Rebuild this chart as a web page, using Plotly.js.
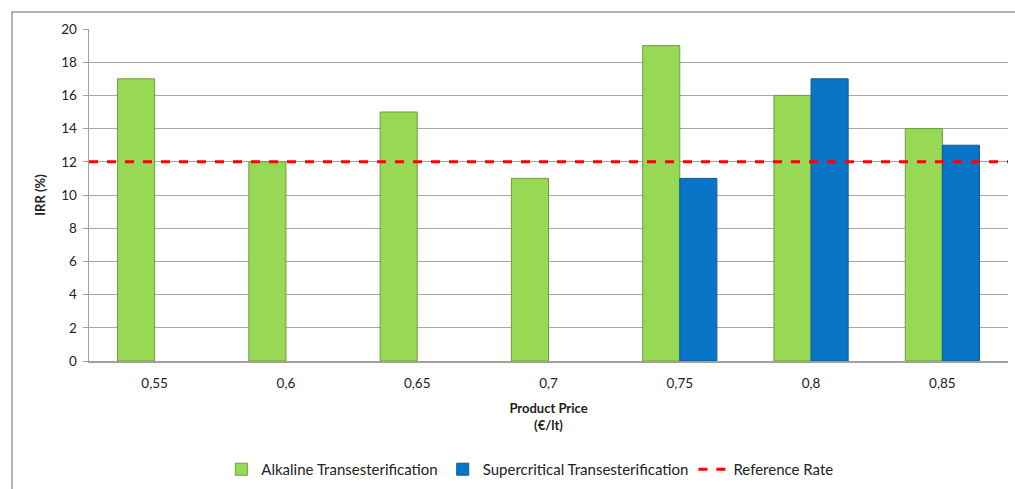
<!DOCTYPE html>
<html><head><meta charset="utf-8">
<script src="https://cdn.plot.ly/plotly-3.0.1.min.js"></script>
<style>body{margin:0;background:#fff}#chart{width:1015px;height:489px}</style>
</head><body><div id="chart"></div>
<script>
const categories = ["0,55", "0,6", "0,65", "0,7", "0,75", "0,8", "0,85"];
const alkaline = [17, 12, 15, 11, 19, 16, 14];
const supercritical = [null, null, null, null, 11, 17, 13];
const referenceRate = 12;
const yTicks = [0, 2, 4, 6, 8, 10, 12, 14, 16, 18, 20];

const font = "Lato, 'Open Sans', sans-serif";

const traces = [
  {type: "bar", name: "Alkaline Transesterification", x: categories, y: alkaline,
   marker: {color: "#97D955", line: {color: "#6E9E3A", width: 1}}},
  {type: "bar", name: "Supercritical Transesterification", x: categories, y: supercritical,
   marker: {color: "#0A74C6", line: {color: "#0B5A96", width: 1}}},
  {type: "scatter", mode: "lines", name: "Reference Rate", xaxis: "x2",
   x: [0, 1], y: [referenceRate, referenceRate],
   line: {color: "#FF0000", width: 3, dash: "dash"}}
];

const layout = {
  width: 1015, height: 489,
  margin: {l: 89, r: 7, t: 29, b: 128},
  paper_bgcolor: "#fff", plot_bgcolor: "#fff",
  font: {family: font, size: 13, color: "#222"},
  barmode: "group", bargap: 0.435, bargroupgap: 0,
  showlegend: true,
  legend: {orientation: "h", xref: "container", yref: "container", x: 0.522, xanchor: "center",
           y: 0.04, yanchor: "middle", itemwidth: 30,
           font: {family: font, size: 15, color: "#222"}, traceorder: "normal"},
  xaxis: {type: "category", showgrid: false, showline: true, linecolor: "#a0a0a0", linewidth: 1.5,
          ticks: "", ticklabelstandoff: 9, tickfont: {family: font, size: 13.5, color: "#222"},
          title: {text: "<b>Product Price<br>(€/lt)</b>", font: {family: font, size: 13, color: "#222"}, standoff: 14},
          fixedrange: true},
  xaxis2: {overlaying: "x", range: [0, 1], visible: false, fixedrange: true},
  yaxis: {range: [0, 20], tickvals: yTicks, showgrid: true, gridcolor: "#a6a6a6", gridwidth: 1,
          showline: true, linecolor: "#a0a0a0", linewidth: 1.5, ticks: "outside", ticklen: 5,
          tickcolor: "#a0a0a0", zeroline: false, ticklabelstandoff: 3,
          tickfont: {family: font, size: 13.5, color: "#222"},
          title: {text: "<b>IRR (%)</b>", font: {family: font, size: 13, color: "#222"}, standoff: 12},
          fixedrange: true},
  shapes: [
    {type: "rect", xref: "paper", yref: "paper", x0: -0.0838, x1: 1.2, y0: -0.6, y1: 1.0512,
     line: {color: "#9a9a9a", width: 1.5}, fillcolor: "rgba(0,0,0,0)", layer: "below"}
  ]
};

Plotly.newPlot("chart", traces, layout, {displayModeBar: false, staticPlot: true});
</script></body></html>
